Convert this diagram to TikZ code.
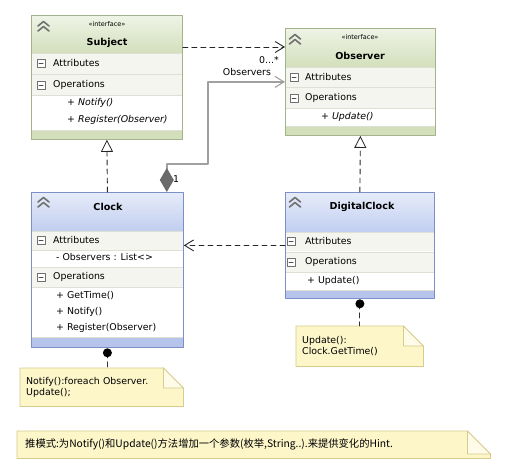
\documentclass[tikz,border=0pt]{standalone}
\usepackage{fontspec}
\setmainfont{DejaVu Sans}
\newfontfamily\cjk{Noto Sans CJK SC}
\usetikzlibrary{arrows.meta}
\pgfdeclarelayer{bg}
\pgfsetlayers{bg,main}
\definecolor{gghead}{HTML}{D3DFBC}
\definecolor{ggtop}{HTML}{EFF4E6}
\definecolor{ggband}{HTML}{D3DFBB}
\definecolor{ggline}{HTML}{A3B38C}
\definecolor{bbhead}{HTML}{C1CEF0}
\definecolor{bbtop}{HTML}{E6ECF9}
\definecolor{bbband}{HTML}{B6C4EC}
\definecolor{bbline}{HTML}{7D8FC9}
\definecolor{rowfill}{HTML}{F3F5EE}
\definecolor{rowline}{HTML}{DDE0D4}
\definecolor{notefill}{HTML}{FCF6C9}
\definecolor{noteline}{HTML}{D6CA8C}
\definecolor{noteflap}{HTML}{FEFBE8}
\definecolor{assocgray}{HTML}{A0A0A0}
\definecolor{diamgray}{HTML}{6B6B6B}
\definecolor{icongray}{HTML}{707070}

\begin{document}
\begin{tikzpicture}[line cap=round,line join=round,x=1pt,y=-1pt,
    every node/.style={font=\fontsize{9.4}{11.5}\selectfont,inner sep=0pt},
    classbox/.style={draw=#1,line width=0.8pt,fill=none,anchor=north west},
    lbl/.style={anchor=west},
    ital/.style={anchor=west,font=\fontsize{9.4}{11.5}\selectfont\itshape},
    title/.style={font=\fontsize{9.6}{11.5}\selectfont\bfseries},
    stereo/.style={font=\fontsize{6.5}{8}\selectfont},
    note/.style={anchor=north west,align=left,inner xsep=6pt},
    chev/.style={color=icongray,line width=1.6pt},
    dep/.style={line width=0.9pt,color=black!85,dash pattern=on 5pt off 4pt},
    realize/.style={dep,-{Triangle[open,length=12pt,width=12pt,line width=0.8pt]}},
    uses/.style={dep,-{Straight Barb[length=9pt,width=11pt,line width=0.9pt]}},
    assoc/.style={line width=1.4pt,color=assocgray,
      {Diamond[length=24pt,width=14pt,fill=diamgray,color=diamgray]}-{Straight Barb[length=9pt,width=11pt,line width=1.1pt]}},
    notelink/.style={line width=0.9pt,color=black!80,dash pattern=on 5pt off 4pt}]
    \useasboundingbox (0,0) rectangle (509,472);
    \node[classbox=ggline,minimum width=151pt,minimum height=124pt] (subject) at (31,15) {};
    \node[classbox=ggline,minimum width=150pt,minimum height=107pt] (observer) at (285,28) {};
    \node[classbox=bbline,minimum width=152pt,minimum height=155pt] (clock) at (31,192) {};
    \node[classbox=bbline,minimum width=149pt,minimum height=106pt] (digital) at (285,192) {};
    \node[note,minimum width=163pt,minimum height=38pt,text width=151pt] (note1) at (20,368) {Notify():foreach Observer.\\Update();};
    \node[note,minimum width=127pt,minimum height=40pt,text width=115pt] (note2) at (296,326) {Update():\\Clock.GetTime()};
    \node[note,minimum width=469pt,minimum height=27pt,text width=457pt,inner xsep=8pt,font=\cjk\fontsize{10.3}{12}\selectfont] (note3) at (17,431) {推模式:为Notify()和Update()方法增加一个参数(枚举,String..).来提供变化的Hint.};
    \draw (107,24) node[stereo] {«interface»};
    \draw (107,43) node[title] {Subject};
    \draw (53,63) node[lbl] {Attributes};
    \draw (53,85) node[lbl] {Operations};
    \draw (67,103) node[ital] {+ Notify()};
    \draw (67,120) node[ital] {+ Register(Observer)};
    \draw (360,37) node[stereo] {«interface»};
    \draw (360,56) node[title] {Observer};
    \draw (305,77) node[lbl] {Attributes};
    \draw (305,98) node[lbl] {Operations};
    \draw (321,117) node[ital] {+ Update()};
    \draw (108,207) node[title] {Clock};
    \draw (53,240) node[lbl] {Attributes};
    \draw (56,257) node[lbl] {- Observers : List<>};
    \draw (53,277) node[lbl] {Operations};
    \draw (56,296) node[lbl] {+ GetTime()};
    \draw (56,312) node[lbl] {+ Notify()};
    \draw (56,328) node[lbl] {+ Register(Observer)};
    \draw (362,207) node[title] {DigitalClock};
    \draw (305,241) node[lbl] {Attributes};
    \draw (305,262) node[lbl] {Operations};
    \draw (307,281) node[lbl] {+ Update()};
    \foreach \cx/\cy in {43.5/27,295/40,43.5/203,295/203}
    {
    \draw[chev] (\cx-5.5,\cy-1)--(\cx,\cy-5.5)--(\cx+5.5,\cy-1);
    \draw[chev] (\cx-5.5,\cy+4)--(\cx,\cy-0.5)--(\cx+5.5,\cy+4);
    }
    \foreach \cx/\cy in {41/63,41/85,294/77,294/98,41/240,41/277,291/241,291/262}
    {
    \draw[color=icongray,fill=white,line width=0.6pt] (\cx-4,\cy-4) rectangle (\cx+4,\cy+4);
    \draw[color=black!70,line width=1pt] (\cx-2,\cy) -- (\cx+2,\cy);
    }
    \begin{pgfonlayer}{bg}
    \shade[top color=ggtop,bottom color=gghead] (31,15) rectangle (182,53);
    \fill[rowfill] (31,53) rectangle (182,74) (31,75) rectangle (182,95);
    \fill[ggband] (31,130) rectangle (182,139);
    \draw[rowline] (31,53) -- (182,53) (31,74.5) -- (182,74.5) (31,95) -- (182,95) (31,130) -- (182,130);
    \shade[top color=ggtop,bottom color=gghead] (285,28) rectangle (435,67);
    \fill[rowfill] (285,67) rectangle (435,87) (285,88) rectangle (435,108);
    \fill[ggband] (285,126) rectangle (435,135);
    \draw[rowline] (285,67) -- (435,67) (285,87.5) -- (435,87.5) (285,108) -- (435,108) (285,126) -- (435,126);
    \shade[top color=bbtop,bottom color=bbhead] (31,192) rectangle (183,231);
    \fill[rowfill] (31,231) rectangle (183,250) (31,268) rectangle (183,287);
    \fill[bbband] (31,337) rectangle (183,347);
    \draw[rowline] (31,231) -- (183,231) (31,250) -- (183,250) (31,267.5) -- (183,267.5) (31,287) -- (183,287) (31,337) -- (183,337);
    \shade[top color=bbtop,bottom color=bbhead] (285,192) rectangle (434,232);
    \fill[rowfill] (285,232) rectangle (434,251) (285,253) rectangle (434,272);
    \fill[bbband] (285,290) rectangle (434,298);
    \draw[rowline] (285,232) -- (434,232) (285,252) -- (434,252) (285,272) -- (434,272) (285,290) -- (434,290);
    \foreach \n/\f in {note1/20,note2/20,note3/23}
    {
    \filldraw[fill=notefill,draw=noteline,line width=0.8pt] (\n.north west) -- ([xshift=-\f pt]\n.north east) -- ([yshift=-\f pt]\n.north east) -- (\n.south east) -- (\n.south west) -- cycle;
    \filldraw[fill=noteflap,draw=noteline,line width=0.8pt] ([xshift=-\f pt]\n.north east) -- ([xshift=-\f pt,yshift=-\f pt]\n.north east) -- ([yshift=-\f pt]\n.north east) -- cycle;
    }
    \end{pgfonlayer}
    \coordinate (elbow) at (208,164);
    \coordinate (clockpin) at ([yshift=-5pt]clock.south);
    \coordinate (digitalpin) at ([yshift=-5pt]digital.south);
    \draw[uses] ([yshift=-32pt]subject.north east) -- ([yshift=-19pt]observer.north west);
    \draw[assoc] ([xshift=-17pt]clock.north east) |- (elbow) |- (observer.west);
    \draw (176,179) node {1};
    \draw (269,60) node {0...*};
    \draw (247,72) node {Observers};
    \draw[realize] (clock.north) -- (subject.south);
    \draw[realize] (digital.north) -- (observer.south);
    \draw[uses] (digital.west) -- (digital.west -| clock.east);
    \draw[notelink] (clockpin) -- (clockpin |- note1.north);
    \draw[notelink] (digitalpin) -- (digitalpin |- note2.north);
    \fill[color=black] (clockpin) circle (4.5pt);
    \fill[color=black] (digitalpin) circle (4.5pt);
\end{tikzpicture}
\end{document}
